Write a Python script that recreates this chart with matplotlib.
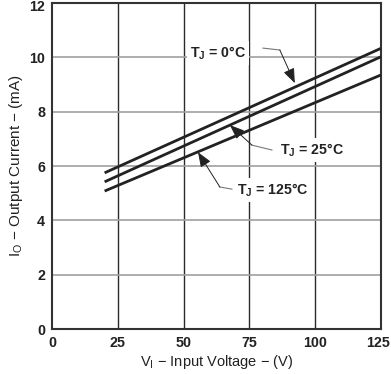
import numpy as np
import matplotlib.pyplot as plt
import matplotlib.transforms as mtransforms

plt.rcParams['font.family'] = ['Liberation Sans', 'DejaVu Sans']

# input voltage (V) and output current (mA) for each junction temperature
v_in = [20, 125]
i_0c = [5.75, 10.33]
i_25c = [5.42, 10.02]
i_125c = [5.08, 9.35]

x_ticks = [0, 25, 50, 75, 100, 125]
y_ticks = [0, 2, 4, 6, 8, 10, 12]

fig = plt.figure(figsize=(3.91, 3.74), dpi=100)
ax = fig.add_axes([0.133, 0.120, 0.841, 0.872])

# grid: vertical dark, horizontal light
for xv in x_ticks[1:-1]:
	ax.axvline(xv, color='#2a2a2a', lw=1.0, zorder=1)
for yv in y_ticks[1:-1]:
	ax.axhline(yv, color='#a0a0a0', lw=1.2, zorder=1)

for cur in (i_0c, i_25c, i_125c):
	ax.plot(v_in, cur, color='#222222', lw=2.0, zorder=3, solid_capstyle='butt')

ax.set_xlim(0, 125)
ax.set_ylim(0, 12)
ax.set_xticks(x_ticks)
ax.set_yticks(y_ticks)
ax.tick_params(length=0, pad=5, labelsize=10.3, colors='#222222')
for lab in ax.get_xticklabels() + ax.get_yticklabels():
	lab.set_fontweight('bold')
for s in ax.spines.values():
	s.set_linewidth(1.5)
	s.set_color('#333333')

# nudge the edge labels so they stay inside the picture
lastx = ax.get_xticklabels()[-1]
lastx.set_transform(lastx.get_transform() + mtransforms.ScaledTranslation(-3/100, 0, fig.dpi_scale_trans))
lasty = ax.get_yticklabels()[-1]
lasty.set_transform(lasty.get_transform() + mtransforms.ScaledTranslation(0, -3/100, fig.dpi_scale_trans))

ax.set_xlabel('V$_\\mathregular{I}$ − Input Voltage − (V)', fontsize=10.5, labelpad=2, color='#222222')
ax.set_ylabel('I$_\\mathregular{O}$ − Output Current − (mA)', fontsize=11, labelpad=3, color='#222222')

# labels with leader lines: (text, text pos, leader start, bend, tip)
labels = [
	('T$_\\mathregular{J}$ = 0°C', (63.1, 10.16), (80.2, 10.34), (86.6, 10.27), (92.3, 9.05)),
	('T$_\\mathregular{J}$ = 25°C', (98.8, 6.59), (83.6, 6.59), (76.0, 6.77), (67.6, 7.51)),
	('T$_\\mathregular{J}$ = 125°C', (84.0, 5.12), (68.4, 5.15), (63.8, 5.23), (55.5, 6.51)),
]
for txt, tpos, start, bend, tip in labels:
	ax.text(tpos[0], tpos[1], txt, ha='center', va='center', fontsize=10.2, fontweight='bold',
		color='#222222', zorder=5,
		bbox=dict(facecolor='white', edgecolor='none', pad=2))
	ax.plot([start[0], bend[0]], [start[1], bend[1]], color='#777777', lw=0.8, zorder=4)
	ax.annotate('', xy=tip, xytext=bend, zorder=4,
		arrowprops=dict(arrowstyle='-|>,head_length=0.9,head_width=0.35',
			color='#222222', lw=0.7, shrinkA=0, shrinkB=0))

fig.savefig('out.png', dpi=100)
